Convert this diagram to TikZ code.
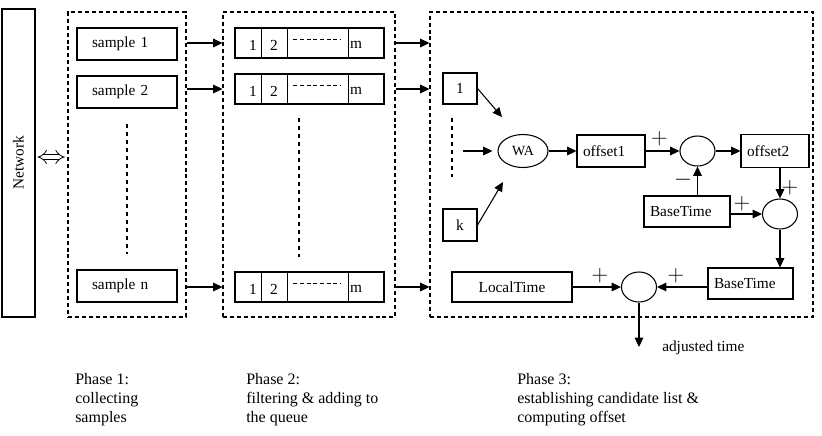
\documentclass[tikz,border=0pt]{standalone}
\usepackage{fontspec}
\setmainfont{Liberation Serif}
\usetikzlibrary{arrows.meta, shapes.geometric, positioning}

\begin{document}
\begin{tikzpicture}[x=0.75pt, y=-0.75pt, font=\fontsize{11.5}{13.5}\selectfont]
  \tikzset{
    box/.style={
      draw,
      line width=0.8pt,
      minimum height=24pt,
      inner sep=0pt
    },
    leftbox/.style={
      box,
      align=left,
      inner xsep=4.5pt
    },
    samplebox/.style={
      box,
      minimum height=24pt,
      text width=52.5pt,
      align=left,
      inner xsep=11.25pt
    },
    phase/.style={
      draw,
      line width=0.8pt,
      dash pattern=on 3pt off 2.2pt,
      minimum height=228.75pt
    },
    sum/.style={
      draw,
      ellipse,
      line width=0.8pt,
      minimum width=26.25pt,
      minimum height=22.5pt,
      inner sep=0pt
    },
    arr/.style={
      line width=0.8pt,
      -{Triangle[length=7pt, width=6.5pt]}
    },
    sign/.style={
      font=\fontsize{16}{16}\selectfont,
      inner sep=0pt
    },
    dots/.style={
      line width=0.8pt,
      dash pattern=on 3pt off 3pt
    },
    caption/.style={
      align=left,
      anchor=base west,
      inner sep=0pt,
      font=\fontsize{12}{14.25}\selectfont
    }
  }
  \useasboundingbox (0,0) rectangle (822,436);

  % Network and the three phases
  \node[box, rotate=90, minimum width=231pt, minimum height=24.75pt] (network) at (18.5,163) {Network};
  \node[phase, minimum width=88.5pt] (phaseone) at (127,164.5) {};
  \node[phase, minimum width=129pt] (phasetwo) at (309,164.5) {};
  \node[phase, minimum width=287.25pt] (phasethree) at (621.5,164.5) {};
  \draw[line width=0.6pt, double, double distance=3.2pt, {Implies}-{Implies}, shorten <=1.5pt, shorten >=2pt]
    ([yshift=4.5pt]network.south) -- ([yshift=4.5pt]network.south -| phaseone.west);

  % Phase 1: samples
  \node[samplebox] (sample1) at (127,44) {sample 1};
  \node[samplebox] (sample2) at (127,92) {sample 2};
  \node[samplebox] (samplen) at (127,286) {sample n};
  \draw[dots] (127,124) -- (127,254);

  % Phase 2: queues
  \foreach \r/\y in {1/43, 2/89, n/287} {
    \node[box, minimum width=111.75pt, minimum height=22.5pt] (queue\r) at (309.5,\y) {};
    \draw[line width=1pt] (queue\r.north west) ++(27,0) -- ++(0,30)
      (queue\r.north west) ++(53,0) -- ++(0,30)
      (queue\r.north west) ++(114,0) -- ++(0,30);
    \draw[line width=0.8pt, dash pattern=on 3pt off 2pt] (queue\r.north west) ++(59,12) -- ++(47,0);
    \node (qa\r) at (253,\y+2) {1};
    \node (qb\r) at (274,\y+2) {2};
    \node (qm\r) at (356,\y+2) {m};
    \draw[arr] (queue\r.west -| phaseone.east) -- (queue\r.west -| phasetwo.west);
    \draw[arr] (queue\r.east -| phasetwo.east) -- (queue\r.east -| phasethree.west);
  }
  \draw[dots] (299,118) -- (299,257);

  % Phase 3: candidates and offset
  \node[box, minimum width=25.5pt, minimum height=23.25pt] (cand1) at (460,88.5) {1};
  \node[box, minimum width=25.5pt, minimum height=24pt] (candk) at (460,225) {k};
  \draw[dots] (452,118) -- (452,177);
  \node[draw, ellipse, line width=0.8pt, minimum width=37.5pt, minimum height=24.75pt, inner sep=0pt,
    font=\fontsize{10.5}{12}\selectfont] (wa) at (523,151) {WA};
  \coordinate (wain1) at (502,117);
  \coordinate (wainm) at (463,151);
  \coordinate (waink) at (503,182);
  \draw[arr] (cand1.east) -- (wain1);
  \draw[arr, shorten >=3.75pt] (wainm) -- (wa.west);
  \draw[arr] (candk.east) -- (waink);

  \node[leftbox, text width=42pt, minimum height=24pt] (offsetone) at (611,151) {offset1};
  \node[sum] (sumone) at (697.5,151) {};
  \node[leftbox, text width=42pt, minimum height=24.75pt] (offsettwo) at (775,151) {offset2};
  \node[leftbox, text width=55.5pt, minimum height=23.25pt] (baseone) at (687,211.5) {BaseTime};
  \node[sum] (sumtwo) at (780,214) {};
  \node[leftbox, text width=54.75pt, minimum height=23.25pt] (basetwo) at (750.5,283.5) {BaseTime};
  \node[sum] (sumthree) at (639,287) {};
  \node[box, minimum width=90pt, minimum height=22.5pt] (localtime) at (512,287) {LocalTime};

  \draw[arr] (wa) -- (offsetone);
  \draw[arr] (offsetone) -- (sumone);
  \draw[arr] (sumone) -- (offsettwo);
  \draw[arr] (baseone.north -| sumone) -- (sumone.south);
  \draw[arr] (offsettwo.south -| sumtwo) -- (sumtwo.north);
  \draw[arr] (baseone.east |- sumtwo) -- (sumtwo.west);
  \draw[arr] (sumtwo.south) -- (sumtwo.south |- basetwo.north);
  \draw[arr] (basetwo.west |- sumthree) -- (sumthree.east);
  \draw[arr] (localtime.east |- sumthree) -- (sumthree.west);
  \coordinate (result) at (639,347);
  \draw[arr] (sumthree.south) -- (result);
  \node[anchor=base west, inner sep=0pt] (adjusted) at (662,351) {adjusted time};

  % Signs
  \node[sign] (plusa) at (659.5,139) {$+$};
  \node[sign] (minusa) at (683,180) {$-$};
  \node[sign] (plusb) at (790,188) {$+$};
  \node[sign] (plusc) at (742,204) {$+$};
  \node[sign] (plusd) at (600,276) {$+$};
  \node[sign] (pluse) at (676,276) {$+$};

  % Captions (base is the last line)
  \node[caption] (capone) at (75,422) {Phase 1:\\collecting\\samples};
  \node[caption] (captwo) at (246,422) {Phase 2:\\filtering \& adding to\\the queue};
  \node[caption] (capthree) at (517,422) {Phase 3:\\establishing candidate list \&\\computing offset};
\end{tikzpicture}
\end{document}
